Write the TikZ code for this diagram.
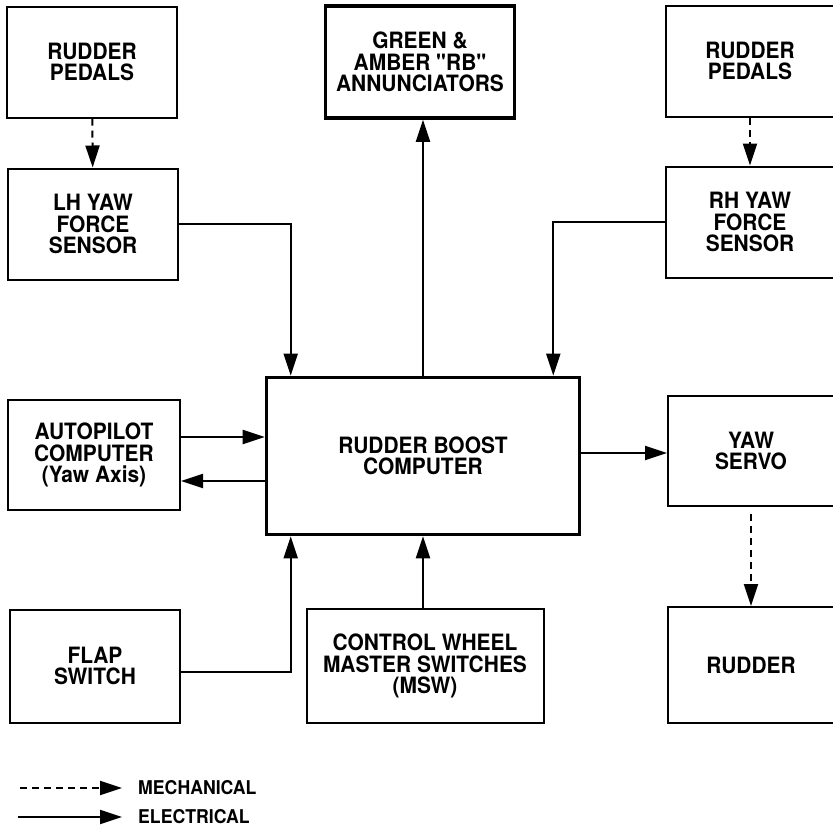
\documentclass[tikz,border=0pt]{standalone}
\usepackage{fontspec}
\setmainfont{TeX Gyre Heros}
\newfontfamily\helvn{TeX Gyre Heros}[FakeStretch=0.93]
\usetikzlibrary{positioning,calc,arrows.meta}
\newcommand{\blkfont}{\helvn\fontsize{22.5}{21.5}\selectfont\bfseries}
\newcommand{\keyfont}{\helvn\fontsize{19}{18}\selectfont\bfseries}

\begin{document}
\begin{tikzpicture}[x=1pt, y=-1pt,
  blk/.style={draw, line width=2pt, inner sep=0pt, align=center, font=\blkfont},
  bigblk/.style={blk, line width=3.6pt},
  elec/.style={line width=2pt, -{Triangle[length=22pt,width=14pt]}},
  mech/.style={elec, dash pattern=on 7pt off 5pt}]
  \useasboundingbox (0,0) rectangle (833,836);
  \clip (0,0) rectangle (833,836);
  \node[blk, minimum width=170, minimum height=111] (pedl) at (92,62){RUDDER\\PEDALS};
  \node[blk, minimum width=170, minimum height=111] (lhs) at (93,224){LH YAW\\FORCE\\SENSOR};
  \node[bigblk, minimum width=189, minimum height=112] (ann) at (420,62){GREEN \&\\AMBER "RB"\\ANNUNCIATORS};
  \node[blk, minimum width=169, minimum height=111] (pedr) at (750,61){RUDDER\\PEDALS};
  \node[blk, minimum width=168, minimum height=111] (rhs) at (750,222){RH YAW\\FORCE\\SENSOR};
  \node[bigblk, minimum width=313, minimum height=157] (rbc) at (423,456){RUDDER BOOST\\COMPUTER};
  \node[blk, minimum width=172, minimum height=110] (ap) at (94,455){AUTOPILOT\\COMPUTER\\(Yaw Axis)};
  \node[blk, minimum width=166, minimum height=110] (ys) at (751,451){YAW\\SERVO};
  \node[blk, minimum width=170, minimum height=113] (flap) at (95,666){FLAP\\SWITCH};
  \node[blk, minimum width=237, minimum height=114] (msw) at (425,666){CONTROL WHEEL\\MASTER SWITCHES\\(MSW)};
  \node[blk, minimum width=166, minimum height=116] (rud) at (751,665){RUDDER};
  \draw[mech] (pedl) -- (lhs);
  \draw[mech] (pedr) -- (rhs);
  \draw[mech, shorten <=7pt] (ys) -- (rud);
  \draw[elec] (lhs.east) -| ([xshift=26pt]rbc.north west);
  \draw[elec] (rhs.west) -| ([xshift=-28pt]rbc.north east);
  \draw[elec] (rbc.north) -- (rbc.north |- ann.south);
  \draw[elec] ([yshift=18pt]ap.east) -- ([yshift=18pt]ap.east -| rbc.west);
  \draw[elec] ([yshift=-26pt]ap.east -| rbc.west) -- ([yshift=-26pt]ap.east);
  \draw[elec] ([yshift=-6pt]flap.east) -| ([xshift=26pt]rbc.south west);
  \draw[elec] (msw.north -| rbc.south) -- (rbc.south);
  \draw[elec] ([yshift=3pt]rbc.east) -- ([yshift=3pt]rbc.east -| ys.west);
  \node[anchor=west, inner sep=0pt, font=\keyfont] (lgm) at (138,788){MECHANICAL};
  \node[anchor=west, inner sep=0pt, font=\keyfont] (lge) at (138,817){ELECTRICAL};
  \coordinate (lgms) at (20,788);
  \coordinate (lges) at (18,817);
  \draw[mech] (lgms) -- ([xshift=-16pt]lgm.west);
  \draw[elec] (lges) -- ([xshift=-16pt]lge.west);
\end{tikzpicture}
\end{document}
